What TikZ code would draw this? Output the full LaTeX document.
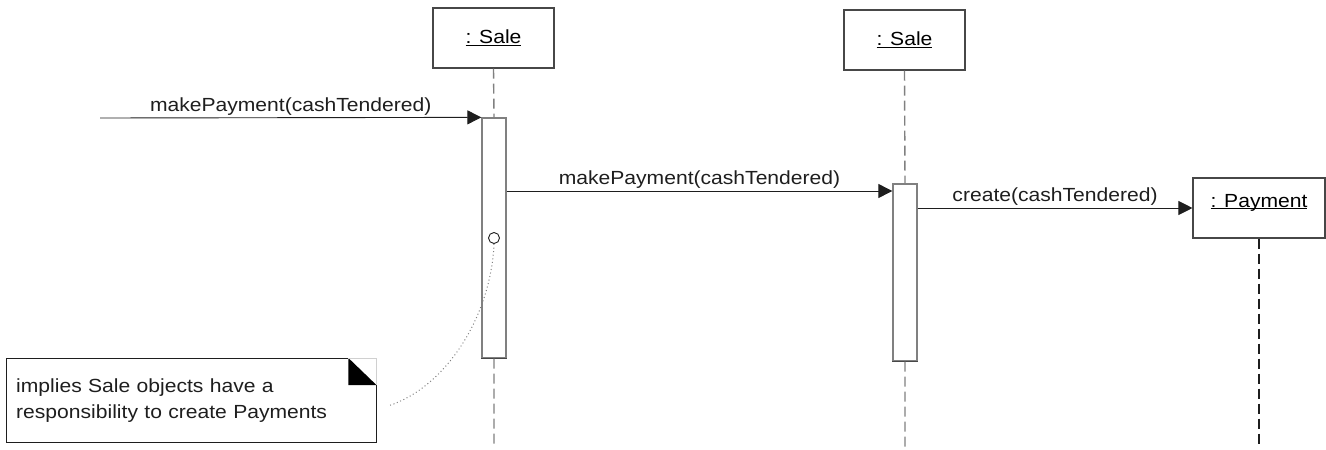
\documentclass[tikz,border=0pt]{standalone}
\usepackage{fontspec}
\setmainfont{Liberation Sans}[FakeStretch=1.11]
\usetikzlibrary{arrows.meta}
\definecolor{ink}{HTML}{1E1E1E}
\definecolor{inkm}{HTML}{474747}
\definecolor{inkl}{HTML}{808080}
\definecolor{inkf}{HTML}{D0D0D0}
\tikzset{
  obj/.style={draw=inkm, line width=1.1pt, fill=white, minimum width=121pt, minimum height=60pt, inner sep=0pt},
  actbar/.style={draw=inkl, line width=1.3pt, fill=white, minimum width=24pt, inner sep=0pt},
  life/.style={inkl, line width=1.4pt, dash pattern=on 10pt off 5pt},
  msg/.style={ink, line width=0.9pt, -{Triangle[length=14pt,width=14pt]}},
  lbl/.style={above, inner sep=2pt, text=ink},
  notebox/.style={anchor=north west, minimum width=370pt, minimum height=84pt, text width=350pt, inner xsep=10pt, inner ysep=0pt, align=left, text=ink}
}

\begin{document}
\begin{tikzpicture}[x=1pt, y=-1pt, font=\fontsize{19}{26}\selectfont, line cap=butt]
  \useasboundingbox (0,0) rectangle (1326,450);
  \coordinate (base) at (0,448);
  % objects and activations
  \node[obj] (sale1) at (493.5,38) {\underline{: Sale}};
  \node[obj] (sale2) at (904.5,40) {\underline{: Sale}};
  \node[obj, minimum width=132pt] (pay) at (1259,208) {\underline{\smash{: Payment}}};
  \node[actbar, minimum height=240pt] (act1) at (494,238) {};
  \node[actbar, minimum height=177pt] (act2) at (905,272.5) {};
  \draw[inkm, line width=1.3pt] (act1.south west) -- (act1.south east) (act2.south west) -- (act2.south east);
  % lifelines
  \draw[life] (sale1.south) -- (act1.north) (act1.south) -- (act1.south |- base);
  \draw[life] (sale2.south) -- (act2.north) (act2.south) -- (act2.south |- base);
  \draw[life, draw=ink, line width=1.1pt] (pay.south) -- (pay.south |- base);
  % messages
  \coordinate (src) at (100,118);
  \draw[msg] (src) -- node[lbl] {makePayment(cashTendered)} (act1.north west);
  \draw[msg] (act1.east |- 0,191) -- node[lbl] {makePayment(cashTendered)} (act2.west |- 0,191);
  \draw[msg] (act2.east |- pay.west) -- node[lbl] {create(cashTendered)} (pay.west);
  % note
  \node[notebox] (note) at (6,358) {implies Sale objects have a\\responsibility to create Payments};
  \draw[ink, line width=1pt] ([xshift=-28pt]note.north east) -- (note.north west) -- (note.south west) -- (note.south east) -- ([yshift=-27pt]note.north east);
  \fill[black] ([xshift=-28pt]note.north east) -- ([xshift=-28pt,yshift=-27pt]note.north east) -- ([yshift=-27pt]note.north east) -- cycle;
  \draw[inkf, line width=0.8pt] ([xshift=-28pt]note.north east) -- (note.north east) -- ([yshift=-27pt]note.north east);
  % anchor circle and dotted link
  \node[circle, draw=ink, line width=0.9pt, fill=white, minimum size=11pt, inner sep=0pt] (mark) at (494,238) {};
  \coordinate (tail) at (388,406);
  \draw[inkl, line width=1pt, dash pattern=on 1pt off 2.6pt] (mark.south) .. controls (491,315) and (447,387) .. (tail);
\end{tikzpicture}
\end{document}
